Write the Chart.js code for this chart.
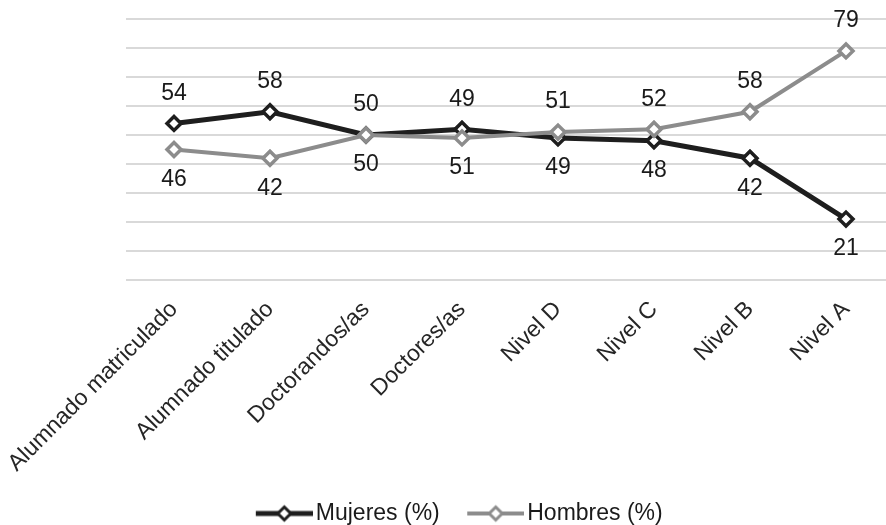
<!DOCTYPE html>
<html><head><meta charset="utf-8">
<script src="https://cdn.jsdelivr.net/npm/chart.js@4.4.0/dist/chart.umd.min.js"></script>
<style>
html,body{margin:0;padding:0;overflow:hidden;background:#fff;width:886px;height:525px}
#wrap{width:894px;height:525px}
</style></head>
<body><div id="wrap"><canvas id="c" width="894" height="525"></canvas></div>
<script>
const categories = ['Alumnado matriculado', 'Alumnado titulado', 'Doctorandos/as', 'Doctores/as', 'Nivel D', 'Nivel C', 'Nivel B', 'Nivel A'];
const mujeres = [54, 58, 50, 52, 49, 48, 42, 21];
const hombres = [45, 42, 50, 49, 51, 52, 58, 79];
const mujeresLabels = ['54', '58', '50', '49', '49', '48', '42', '21'];
const hombresLabels = ['46', '42', '50', '51', '51', '52', '58', '79'];
const seriesNames = ['Mujeres (%)', 'Hombres (%)'];

const FONT = '"Liberation Sans", Arial, sans-serif';
const DARK = '#1e1e1e';
const GREY = '#8c8c8c';
const LABEL_OFFSET = 30;

function legendImage(color, lw) {
  const c = document.createElement('canvas');
  c.width = 90; c.height = 20;
  const g = c.getContext('2d');
  g.strokeStyle = color; g.lineWidth = lw;
  g.beginPath(); g.moveTo(33, 10); g.lineTo(90, 10); g.stroke();
  const cx = 61.5, cy = 10, r = 6.5;
  g.beginPath(); g.moveTo(cx, cy - r); g.lineTo(cx + r, cy); g.lineTo(cx, cy + r); g.lineTo(cx - r, cy); g.closePath();
  g.fillStyle = '#fff'; g.fill(); g.lineWidth = 3; g.stroke();
  return c;
}
const legendImgs = [legendImage(DARK, 5), legendImage(GREY, 4)];

const valueLabels = {
  id: 'valueLabels',
  afterDatasetsDraw(chart) {
    const ctx = chart.ctx;
    const m0 = chart.getDatasetMeta(0), m1 = chart.getDatasetMeta(1);
    ctx.save();
    ctx.font = '23px ' + FONT;
    ctx.fillStyle = '#1a1a1a';
    ctx.textAlign = 'center';
    ctx.textBaseline = 'middle';
    categories.forEach((c, i) => {
      const a = mujeres[i], b = hombres[i];
      const mUp = a >= b;
      const p0 = m0.data[i], p1 = m1.data[i];
      ctx.fillText(mujeresLabels[i], p0.x, p0.y + (mUp ? -LABEL_OFFSET : LABEL_OFFSET));
      ctx.fillText(hombresLabels[i], p1.x, p1.y + (mUp ? LABEL_OFFSET : -LABEL_OFFSET));
    });
    ctx.restore();
  }
};

new Chart(document.getElementById('c'), {
  type: 'line',
  data: {
    labels: categories,
    datasets: [
      { label: seriesNames[0], data: mujeres, borderColor: DARK, borderWidth: 5, tension: 0,
        pointStyle: 'rectRot', pointRadius: 7, pointBorderWidth: 3.5, pointBackgroundColor: '#fff', pointBorderColor: DARK, order: 1 },
      { label: seriesNames[1], data: hombres, borderColor: GREY, borderWidth: 4, tension: 0,
        pointStyle: 'rectRot', pointRadius: 7, pointBorderWidth: 3.5, pointBackgroundColor: '#fff', pointBorderColor: GREY, order: 0 }
    ]
  },
  options: {
    responsive: false, animation: false, devicePixelRatio: 1,
    layout: { autoPadding: false, padding: { top: 19, left: 0, right: 0, bottom: -10 } },
    scales: {
      x: {
        offset: true,
        grid: { display: false, drawTicks: false },
        border: { display: false },
        ticks: { autoSkip: false, minRotation: 45, maxRotation: 45, padding: 16, color: '#262626', font: { family: FONT, size: 23 } },
        afterFit(s) { s.height = 219; s.paddingLeft = 0; s.paddingRight = 0; }
      },
      y: {
        min: 0, max: 90,
        ticks: { display: false, stepSize: 10 },
        grid: { color: '#d9d9d9', lineWidth: 2, drawTicks: false },
        border: { display: false },
        afterFit(s) { s.width = 126; }
      }
    },
    plugins: {
      legend: {
        position: 'bottom',
        labels: {
          usePointStyle: true, pointStyleWidth: 73, padding: 3, color: '#1a1a1a',
          font: { family: FONT, size: 23 },
          sort: (a, b) => a.datasetIndex - b.datasetIndex,
          generateLabels(chart) {
            const items = Chart.defaults.plugins.legend.labels.generateLabels(chart);
            items.forEach(it => { it.pointStyle = legendImgs[it.datasetIndex]; });
            return items;
          }
        }
      },
      tooltip: { enabled: false }
    }
  },
  plugins: [valueLabels]
});
</script>
</body></html>
